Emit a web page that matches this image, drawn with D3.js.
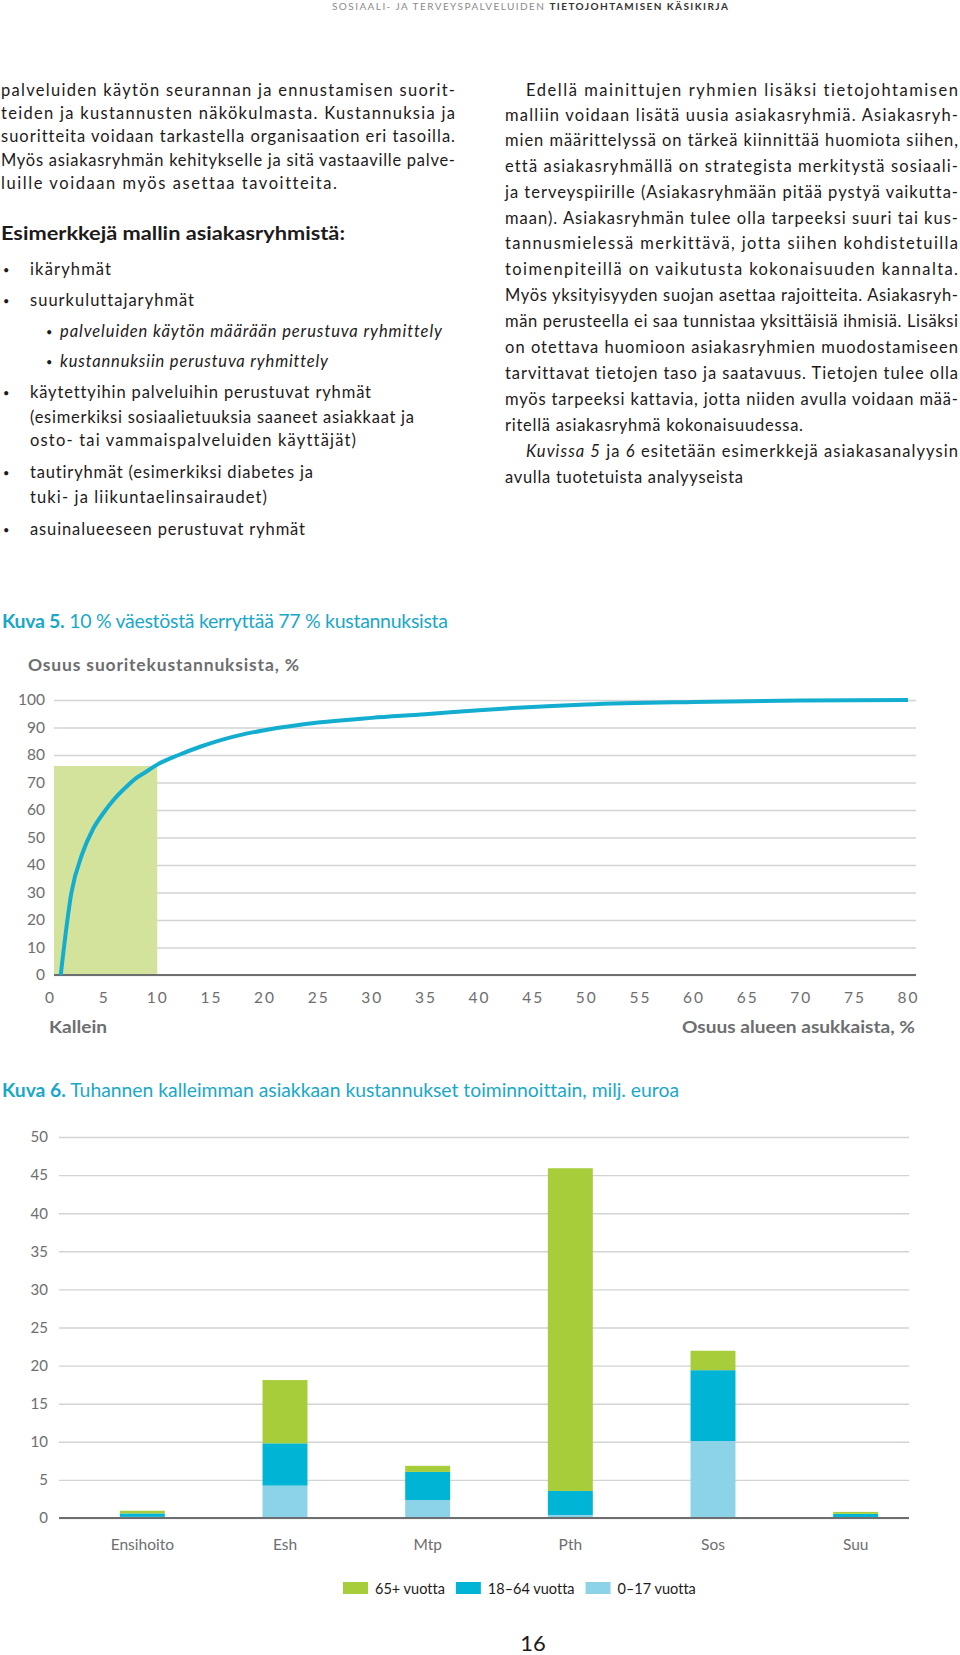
<!DOCTYPE html>
<html>
<head>
<meta charset="utf-8">
<script src="https://cdn.jsdelivr.net/npm/d3@7"></script>
<style>
  body { margin: 0; background: #fff; }
  svg text { font-family: Lato, "Open Sans", sans-serif; font-variant-ligatures: none; font-feature-settings: "liga" 0, "clig" 0, "dlig" 0; }
</style>
</head>
<body>
<svg id="page" width="960" height="1655"></svg>
<script>
// ---- Kuva 5 data: cumulative share of costs vs share of residents
const curveX = [1, 2, 3, 4, 5, 6, 7, 8, 9, 10, 12, 14, 16, 18, 20, 25, 30, 35, 40, 50, 60, 70, 80];
const curveY = [0, 30, 44, 53, 59, 64, 68, 71.5, 74, 76.5, 80, 83, 85.5, 87.5, 89, 91.8, 93.5, 94.8, 96.3, 98.4, 99.3, 99.8, 100];
const highlightX = [0, 10];
const highlightY = 76;
const xTicks1 = [0, 5, 10, 15, 20, 25, 30, 35, 40, 45, 50, 55, 60, 65, 70, 75, 80];
const yTicks1 = [0, 10, 20, 30, 40, 50, 60, 70, 80, 90, 100];

// ---- Kuva 6 data: costs by function, million euros
const categories = ["Ensihoito", "Esh", "Mtp", "Pth", "Sos", "Suu"];
const age0_17 = [0.15, 4.25, 2.35, 0.4, 10.1, 0.1];
const age18_64 = [0.45, 5.55, 3.7, 3.15, 9.3, 0.45];
const age65 = [0.35, 8.3, 0.8, 42.35, 2.55, 0.25];
const seriesNames = ["65+ vuotta", "18–64 vuotta", "0–17 vuotta"];
const yTicks2 = [0, 5, 10, 15, 20, 25, 30, 35, 40, 45, 50];

const svg = d3.select("#page");
const textDark = "#1d1a1b";
const gray = "#6d6e70";
const cyanTitle = "#19a8c8";

// header
const header = svg.append("text")
  .attr("x", 332).attr("y", 10)
  .attr("font-size", 10).attr("letter-spacing", 1.1)
  .attr("textLength", 397).attr("lengthAdjust", "spacing");
header.append("tspan").attr("fill", "#8a8b8d").text("SOSIAALI- JA TERVEYSPALVELUIDEN ");
header.append("tspan").attr("fill", "#333").attr("font-weight", "bold").text("TIETOJOHTAMISEN KÄSIKIRJA");

// body text, left column
const leftLines = [
  { t: "palveluiden käytön seurannan ja ennustamisen suorit-", x: 1, y: 96, w: 454 },
  { t: "teiden ja kustannusten näkökulmasta. Kustannuksia ja", x: 1, y: 119, w: 454 },
  { t: "suoritteita voidaan tarkastella organisaation eri tasoilla.", x: 1, y: 142, w: 454 },
  { t: "Myös asiakasryhmän kehitykselle ja sitä vastaaville palve-", x: 1, y: 166, w: 454 },
  { t: "luille voidaan myös asettaa tavoitteita.", x: 1, y: 189, w: 336 }
];
const bulletLines = [
  { t: "ikäryhmät", x: 30, y: 275, w: 81, b: 3 },
  { t: "suurkuluttajaryhmät", x: 30, y: 306, w: 164, b: 3 },
  { t: "palveluiden käytön määrään perustuva ryhmittely", x: 60, y: 337, w: 382, b: 46, it: true },
  { t: "kustannuksiin perustuva ryhmittely", x: 60, y: 367, w: 268, b: 46, it: true },
  { t: "käytettyihin palveluihin perustuvat ryhmät", x: 30, y: 398, w: 341, b: 3 },
  { t: "(esimerkiksi sosiaalietuuksia saaneet asiakkaat ja", x: 30, y: 423, w: 384 },
  { t: "osto- tai vammaispalveluiden käyttäjät)", x: 30, y: 446, w: 326 },
  { t: "tautiryhmät (esimerkiksi diabetes ja", x: 30, y: 478, w: 283, b: 3 },
  { t: "tuki- ja liikuntaelinsairaudet)", x: 30, y: 503, w: 237 },
  { t: "asuinalueeseen perustuvat ryhmät", x: 30, y: 535, w: 275, b: 3 }
];
const rightLines = [
  { t: "Edellä mainittujen ryhmien lisäksi tietojohtamisen", x: 526, y: 96, w: 432 },
  { t: "malliin voidaan lisätä uusia asiakasryhmiä. Asiakasryh-", x: 505, y: 121, w: 453 },
  { t: "mien määrittelyssä on tärkeä kiinnittää huomiota siihen,", x: 505, y: 146, w: 453 },
  { t: "että asiakasryhmällä on strategista merkitystä sosiaali-", x: 505, y: 172, w: 453 },
  { t: "ja terveyspiirille (Asiakasryhmään pitää pystyä vaikutta-", x: 505, y: 198, w: 453 },
  { t: "maan). Asiakasryhmän tulee olla tarpeeksi suuri tai kus-", x: 505, y: 224, w: 453 },
  { t: "tannusmielessä merkittävä, jotta siihen kohdistetuilla", x: 505, y: 249, w: 453 },
  { t: "toimenpiteillä on vaikutusta kokonaisuuden kannalta.", x: 505, y: 275, w: 453 },
  { t: "Myös yksityisyyden suojan asettaa rajoitteita. Asiakasryh-", x: 505, y: 301, w: 453 },
  { t: "män perusteella ei saa tunnistaa yksittäisiä ihmisiä. Lisäksi", x: 505, y: 327, w: 453 },
  { t: "on otettava huomioon asiakasryhmien muodostamiseen", x: 505, y: 353, w: 453 },
  { t: "tarvittavat tietojen taso ja saatavuus. Tietojen tulee olla", x: 505, y: 379, w: 453 },
  { t: "myös tarpeeksi kattavia, jotta niiden avulla voidaan mää-", x: 505, y: 405, w: 453 },
  { t: "ritellä asiakasryhmä kokonaisuudessa.", x: 505, y: 431, w: 298 }
];

function drawLines(lines, size) {
  lines.forEach(l => {
    svg.append("text")
      .attr("x", l.x).attr("y", l.y)
      .attr("font-size", size).attr("fill", textDark)
      .attr("font-style", l.it ? "italic" : null)
      .attr("textLength", l.w).attr("lengthAdjust", "spacing")
      .text(l.t);
    if (l.b !== undefined) {
      svg.append("text").attr("x", l.b).attr("y", l.y - 1)
        .attr("font-size", 11).attr("fill", textDark).text("•");
    }
  });
}
drawLines(leftLines, 16.5);
drawLines(bulletLines, 16.5);
drawLines(rightLines, 16.5);

svg.append("text").attr("x", 1).attr("y", 240)
  .attr("font-size", 19).attr("font-weight", "bold").attr("fill", textDark)
  .attr("textLength", 344).attr("lengthAdjust", "spacingAndGlyphs")
  .text("Esimerkkejä mallin asiakasryhmistä:");

const kuvissa = svg.append("text").attr("x", 526).attr("y", 457)
  .attr("font-size", 16.5).attr("fill", textDark)
  .attr("textLength", 432).attr("lengthAdjust", "spacing");
kuvissa.append("tspan").attr("font-style", "italic").text("Kuvissa 5");
kuvissa.append("tspan").text(" ja ");
kuvissa.append("tspan").attr("font-style", "italic").text("6");
kuvissa.append("tspan").text(" esitetään esimerkkejä asiakasanalyysin");
svg.append("text").attr("x", 505).attr("y", 483)
  .attr("font-size", 16.5).attr("fill", textDark)
  .attr("textLength", 238).attr("lengthAdjust", "spacing")
  .text("avulla tuotetuista analyyseista");

// ================= Kuva 5 =================
const t5 = svg.append("text").attr("x", 2).attr("y", 628)
  .attr("font-size", 19.5).attr("fill", cyanTitle)
  .attr("textLength", 446).attr("lengthAdjust", "spacing");
t5.append("tspan").attr("font-weight", "bold").text("Kuva 5.");
t5.append("tspan").text(" 10 % väestöstä kerryttää 77 % kustannuksista");

svg.append("text").attr("x", 28).attr("y", 671)
  .attr("font-size", 17.5).attr("font-weight", "bold").attr("fill", gray)
  .attr("textLength", 271).attr("lengthAdjust", "spacing")
  .text("Osuus suoritekustannuksista, %");

const p1 = { left: 54, right: 916, top: 700, bottom: 975 };
const x1 = d3.scaleLinear().domain([0, 80]).range([50, 908]);
const y1 = d3.scaleLinear().domain([0, 100]).range([p1.bottom, p1.top]);

const g1 = svg.append("g");

g1.append("g")
  .attr("transform", `translate(${p1.left},0)`)
  .call(d3.axisLeft(y1).tickValues(yTicks1).tickSize(-(p1.right - p1.left)).tickPadding(9))
  .call(g => g.select(".domain").remove())
  .call(g => g.selectAll("line").attr("stroke", "#d2d3d4").attr("stroke-width", 1.4))
  .call(g => g.selectAll("text").attr("fill", gray).attr("font-size", 15.5)
    .attr("font-family", "'Open Sans', sans-serif"));

g1.append("rect")
  .attr("x", x1(highlightX[0]) + 4)
  .attr("y", y1(highlightY))
  .attr("width", x1(highlightX[1]) - x1(highlightX[0]) - 4)
  .attr("height", y1(0) - y1(highlightY))
  .attr("fill", "#d3e39c");

g1.append("g")
  .attr("transform", `translate(0,${p1.bottom})`)
  .call(d3.axisBottom(x1).tickValues(xTicks1).tickSize(0).tickPadding(17))
  .call(g => g.select(".domain").remove())
  .call(g => g.selectAll("text").attr("fill", gray).attr("font-size", 15.5)
    .attr("letter-spacing", 2).attr("font-family", "'Open Sans', sans-serif"));

g1.append("line")
  .attr("x1", p1.left).attr("x2", p1.right)
  .attr("y1", y1(0)).attr("y2", y1(0))
  .attr("stroke", "#6d6e70").attr("stroke-width", 2);

const line1 = d3.line()
  .x((d, i) => x1(curveX[i]))
  .y(d => y1(d))
  .curve(d3.curveMonotoneX);

g1.append("path")
  .datum(curveY)
  .attr("d", line1)
  .attr("fill", "none")
  .attr("stroke", "#12adcf")
  .attr("stroke-width", 4)
  .attr("stroke-linejoin", "round");

svg.append("text").attr("x", 49).attr("y", 1033)
  .attr("font-size", 17).attr("font-weight", "bold").attr("fill", gray)
  .attr("textLength", 58).attr("lengthAdjust", "spacingAndGlyphs")
  .text("Kallein");
svg.append("text").attr("x", 682).attr("y", 1033)
  .attr("font-size", 17).attr("font-weight", "bold").attr("fill", gray)
  .attr("textLength", 233).attr("lengthAdjust", "spacingAndGlyphs")
  .text("Osuus alueen asukkaista, %");

// ================= Kuva 6 =================
const t6 = svg.append("text").attr("x", 2).attr("y", 1097)
  .attr("font-size", 19.5).attr("fill", cyanTitle)
  .attr("textLength", 677).attr("lengthAdjust", "spacingAndGlyphs");
t6.append("tspan").attr("font-weight", "bold").text("Kuva 6.");
t6.append("tspan").text(" Tuhannen kalleimman asiakkaan kustannukset toiminnoittain, milj. euroa");

const p2 = { left: 59, right: 909, top: 1137, bottom: 1518 };
const y2 = d3.scaleLinear().domain([0, 50]).range([p2.bottom, p2.top]);
const x2 = d3.scaleBand().domain(categories).range([71, 927])
  .paddingInner(0.685).paddingOuter(0.3425);

const g2 = svg.append("g");
g2.append("g")
  .attr("transform", `translate(${p2.left},0)`)
  .call(d3.axisLeft(y2).tickValues(yTicks2).tickSize(-(p2.right - p2.left)).tickPadding(11))
  .call(g => g.select(".domain").remove())
  .call(g => g.selectAll("line").attr("stroke", "#d2d3d4").attr("stroke-width", 1.4))
  .call(g => g.selectAll("text").attr("fill", gray).attr("font-size", 15)
    .attr("font-family", "'Open Sans', sans-serif"));

const rows = categories.map((c, i) => ({ cat: c, a0: age0_17[i], a18: age18_64[i], a65: age65[i] }));
const keys = ["a0", "a18", "a65"];
const colors = { a0: "#8dd3e8", a18: "#00b4d5", a65: "#a7cd3a" };
const stacked = d3.stack().keys(keys)(rows);

g2.selectAll("g.layer")
  .data(stacked)
  .join("g")
  .attr("class", "layer")
  .attr("fill", d => colors[d.key])
  .selectAll("rect")
  .data(d => d)
  .join("rect")
  .attr("x", d => x2(d.data.cat))
  .attr("width", x2.bandwidth())
  .attr("y", d => y2(d[1]))
  .attr("height", d => y2(d[0]) - y2(d[1]));

g2.append("g")
  .attr("transform", `translate(0,${p2.bottom})`)
  .call(d3.axisBottom(x2).tickSize(0).tickPadding(21))
  .call(g => g.select(".domain").remove())
  .call(g => g.selectAll("text").attr("fill", gray).attr("font-size", 15.5)
    .attr("font-family", "'Open Sans', sans-serif"));

g2.append("line")
  .attr("x1", p2.left).attr("x2", p2.right)
  .attr("y1", y2(0)).attr("y2", y2(0))
  .attr("stroke", "#6d6e70").attr("stroke-width", 2);

// legend
const legendKeys = ["a65", "a18", "a0"];
let lx = 343;
legendKeys.forEach((k, i) => {
  svg.append("rect").attr("x", lx).attr("y", 1582).attr("width", 25).attr("height", 12)
    .attr("fill", colors[k]);
  const t = svg.append("text").attr("x", lx + 32).attr("y", 1594)
    .attr("font-size", 14.5).attr("fill", textDark)
    .attr("font-family", "'Open Sans', sans-serif")
    .text(seriesNames[i]);
  lx = lx + 32 + t.node().getComputedTextLength() + 11;
});

svg.append("text").attr("x", 533).attr("y", 1651)
  .attr("text-anchor", "middle").attr("font-size", 22).attr("fill", textDark)
  .text("16");
</script>
</body>
</html>
